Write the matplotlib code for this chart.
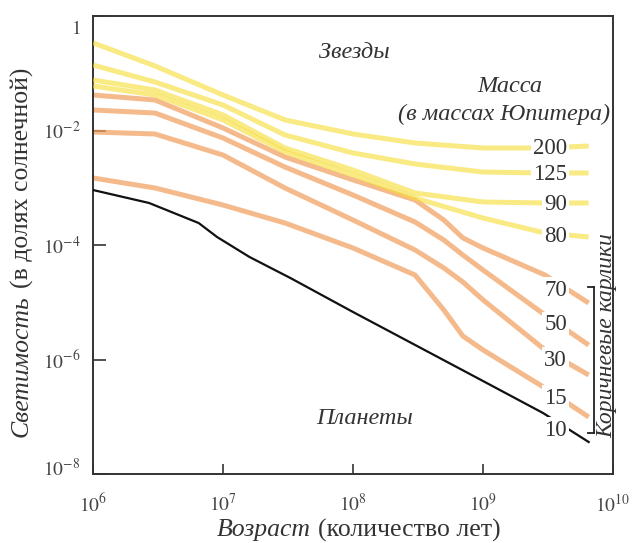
import matplotlib
matplotlib.use("Agg")
import matplotlib.pyplot as plt
from matplotlib.lines import Line2D
from matplotlib.transforms import ScaledTranslation
import numpy as np

plt.rcParams['font.family'] = ['Liberation Serif', 'DejaVu Serif']
plt.rcParams['mathtext.fontset'] = 'stix'

# ---- data: age (years) and luminosity (L_sun) ----
star_ages = [1e6, 3e6, 1e7, 3e7, 1e8, 3e8, 1e9, 3e9, 6.5e9]
L_200 = [0.34, 0.134, 0.0417, 0.0153, 8.69e-3, 6.05e-3, 4.95e-3, 4.95e-3, 5.36e-3]
L_125 = [0.139, 0.0703, 0.0279, 8.35e-3, 4.05e-3, 2.60e-3, 1.88e-3, 1.81e-3, 1.81e-3]
L_90 = [0.0762, 0.0510, 0.0187, 4.95e-3, 2.04e-3, 8.10e-4, 5.64e-4, 5.42e-4, 5.42e-4]
L_80 = [0.0599, 0.0417, 0.0153, 4.21e-3, 1.67e-3, 6.62e-4, 2.96e-4, 1.62e-4, 1.38e-4]

bd_ages = [1e6, 3e6, 1e7, 3e7, 1e8, 3e8, 5e8, 7e8, 1e9, 3e9, 6.5e9]
L_70 = [0.0417, 0.0341, 0.01106, 3.44e-3, 1.37e-3, 6.11e-4, 2.73e-4, 1.33e-4, 8.87e-5, 2.99e-5, 9.70e-6]
L_50 = [0.0228, 0.0202, 7.40e-3, 2.30e-3, 7.47e-4, 2.52e-4, 1.22e-4, 6.69e-5, 3.66e-5, 5.99e-6, 1.79e-6]
L_30 = [9.41e-3, 8.69e-3, 3.73e-3, 9.90e-4, 2.73e-4, 8.18e-5, 3.97e-5, 2.26e-5, 1.10e-5, 1.47e-6, 5.36e-7]
L_15 = [1.48e-3, 9.90e-4, 4.99e-4, 2.42e-4, 8.87e-5, 2.99e-5, 7.32e-6, 2.57e-6, 1.47e-6, 3.18e-7, 9.90e-8]

planet_ages = [1e6, 2.7e6, 6.5e6, 9e6, 1.6e7, 3.3e7, 1e8, 1e9, 2.9e9, 6.5e9]
L_10 = [9.13e-4, 5.42e-4, 2.42e-4, 1.38e-4, 6.17e-5, 2.65e-5, 6.76e-6, 4.21e-7, 1.16e-7, 3.62e-8]

star_masses = ['200', '125', '90', '80']
bd_masses = ['70', '50', '30', '15']
planet_mass = '10'

x_ticks = [1e6, 1e7, 1e8, 1e9, 1e10]
x_ticklabels = [r'$10^{6}$', r'$10^{7}$', r'$10^{8}$', r'$10^{9}$', r'$10^{10}$']
y_ticks = [1e-8, 1e-6, 1e-4, 1e-2, 1]
y_ticklabels = [r'$10^{-8}$', r'$10^{-6}$', r'$10^{-4}$', r'$10^{-2}$', r'$1$']

W, H = 632, 543
fig = plt.figure(figsize=(W / 100, H / 100), dpi=100)
ax = fig.add_axes([93 / W, 1 - 474 / H, (613 - 93) / W, (474 - 16) / H])
ax.set_xscale('log')
ax.set_yscale('log')
ax.set_xlim(1e6, 1e10)
ax.set_ylim(1e-8, 1)

txt = '#333333'
orange = '#F2A060'
yellow = '#F5DC30'

for L in [L_70, L_50, L_30, L_15]:
    ax.plot(bd_ages, L, color=orange, lw=3.6, alpha=0.72, solid_capstyle='butt',
            solid_joinstyle='round', zorder=2)
for L in [L_80, L_90, L_125, L_200]:
    ax.plot(star_ages, L, color=yellow, lw=3.6, alpha=0.6, solid_capstyle='butt',
            solid_joinstyle='round', zorder=3)
ax.plot(planet_ages, L_10, color='#111111', lw=1.6, zorder=4)

ax.set_xticks(x_ticks)
ax.set_xticklabels(x_ticklabels)
ax.set_yticks(y_ticks)
ax.set_yticklabels(y_ticklabels)
ax.minorticks_off()
ax.tick_params(axis='both', direction='in', length=7, width=1.2, colors=txt,
               labelsize=14, labelcolor='#444444')
ax.tick_params(axis='y', pad=9, length=9)
ax.tick_params(axis='x', pad=14)
for s in ax.spines.values():
    s.set_color('#333333')
    s.set_linewidth(1.4)

# nudge the end labels of the y axis inward, as in the original
ylabels = ax.get_yticklabels()
ylabels[-1].set_transform(ylabels[-1].get_transform() +
                          ScaledTranslation(0, -8 / 72, fig.dpi_scale_trans))
ylabels[0].set_transform(ylabels[0].get_transform() +
                         ScaledTranslation(0, 5 / 72, fig.dpi_scale_trans))

def fx(px):
    return px / W

def fy(py):
    return 1 - py / H

# number labels with white background (break lines)
num_y = {'200': 148, '125': 175, '90': 205, '80': 237,
         '70': 290, '50': 325, '30': 360, '15': 398, '10': 430}
for m in star_masses + bd_masses + [planet_mass]:
    fig.text(fx(567), fy(num_y[m]), m, ha='right', va='center', fontsize=16.5,
             color=txt, zorder=10,
             bbox=dict(facecolor='white', edgecolor='none', pad=1.5))

fs = 17.5
fig.text(fx(354), fy(52), 'Звезды', ha='center', va='center', fontsize=fs,
         style='italic', color=txt)
fig.text(fx(510), fy(87), 'Масса', ha='center', va='center', fontsize=fs,
         style='italic', color=txt)
fig.text(fx(504), fy(114), '(в массах Юпитера)', ha='center', va='center', fontsize=fs,
         style='italic', color=txt)
fig.text(fx(365), fy(418), 'Планеты', ha='center', va='center', fontsize=fs,
         style='italic', color=txt)
fig.text(fx(607), fy(336), 'Коричневые карлики', ha='center', va='center', fontsize=17,
         style='italic', color=txt, rotation=90)

# bracket
bx = fx(594)
for seg in [([bx, bx], [fy(287), fy(433)]),
            ([fx(588), bx], [fy(287), fy(287)]),
            ([fx(588), bx], [fy(433), fy(433)])]:
    fig.add_artist(Line2D(seg[0], seg[1], color='#222222', lw=1.3,
                          transform=fig.transFigure))

# axis labels (mixed italic / upright)
fls = 18.5
fig.canvas.draw()
r = fig.canvas.get_renderer()
t1 = fig.text(fx(217), fy(530), 'Возраст', ha='left', va='center', fontsize=fls,
              style='italic', color=txt)
bb = t1.get_window_extent(r)
fig.text((bb.x1 + 7) / W, fy(530), '(количество лет)', ha='left', va='center',
         fontsize=fls, color=txt)

t2 = fig.text(fx(22), fy(437), 'Светимость', ha='center', va='bottom', fontsize=fls,
              style='italic', color=txt, rotation=90)
bb2 = t2.get_window_extent(r)
fig.text(fx(22), (bb2.y1 + 7) / H, '(в долях солнечной)', ha='center', va='bottom',
         fontsize=fls, color=txt, rotation=90)

fig.savefig('out.png', dpi=100, facecolor='white')
